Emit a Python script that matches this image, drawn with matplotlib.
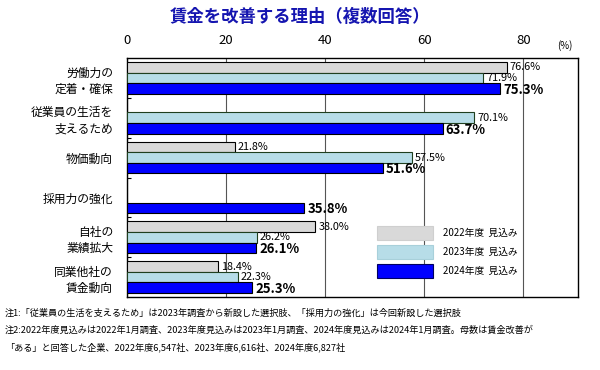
import numpy as np
import matplotlib
matplotlib.use("Agg")
import matplotlib.pyplot as plt
from matplotlib.patches import Patch

plt.rcParams['font.family'] = ['Noto Sans CJK JP', 'DejaVu Sans']

# categories and survey values (%), nan where the option did not exist
categories = ["労働力の\n定着・確保", "従業員の生活を\n支えるため", "物価動向",
              "採用力の強化", "自社の\n業績拡大", "同業他社の\n賃金動向"]
v2022 = [76.6, np.nan, 21.8, np.nan, 38.0, 18.4]
v2023 = [71.9, 70.1, 57.5, np.nan, 26.2, 22.3]
v2024 = [75.3, 63.7, 51.6, 35.8, 26.1, 25.3]
series_labels = ["2022年度  見込み", "2023年度  見込み", "2024年度  見込み"]
x_ticks = [0, 20, 40, 60, 80]

notes = [
    "注1:「従業員の生活を支えるため」は2023年調査から新設した選択肢、「採用力の強化」は今回新設した選択肢",
    "注2:2022年度見込みは2022年1月調査、2023年度見込みは2023年1月調査、2024年度見込みは2024年1月調査。母数は賃金改善が",
    "「ある」と回答した企業、2022年度6,547社、2023年度6,616社、2024年度6,827社",
]

fig = plt.figure(figsize=(6, 3.7), dpi=100)
ax = fig.add_axes([127 / 600, 1 - 297 / 370, 451 / 600, 239 / 370])

y = np.arange(len(categories))
h = 0.265
styles = [
    (v2022, -h, "#d9d9d9", "black"),
    (v2023, 0, "#b7dde8", "#1f3f1f"),
    (v2024, h, "#0000ff", "black"),
]
for i, (vals, off, fc, ec) in enumerate(styles):
    vals = np.array(vals, dtype=float)
    ax.barh(y + off, vals, height=h, color=fc, edgecolor=ec, linewidth=0.8, zorder=3)
    for yy, v in zip(y + off, vals):
        if np.isnan(v):
            continue
        if i == 2:
            ax.text(v + 0.6, yy + 0.03, f"{v:.1f}%", va="center", ha="left",
                    fontsize=9.5, fontweight="bold", zorder=4)
        else:
            ax.text(v + 0.6, yy, f"{v:.1f}%", va="center", ha="left",
                    fontsize=7.8, zorder=4)

ax.set_xlim(0, 91)
ax.set_ylim(len(categories) - 0.5, -0.5)
ax.xaxis.tick_top()
ax.set_xticks(x_ticks)
ax.set_xticklabels([str(t) for t in x_ticks], fontsize=9.5)
ax.tick_params(axis="x", length=0, pad=8)
ax.grid(axis="x", color="#555555", linewidth=0.8, zorder=0)

# small ticks at group boundaries, labels at group centres
ax.set_yticks(y)
ax.set_yticklabels(categories, fontsize=8.5, linespacing=1.3)
ax.tick_params(axis="y", length=0, pad=10)
ax.set_yticks(np.arange(len(categories) - 1) + 0.5, minor=True)
ax.tick_params(axis="y", which="minor", direction="in", length=3, width=0.8)
for s in ax.spines.values():
    s.set_linewidth(1.0)
    s.set_color("black")

fig.text(565 / 600, 1 - 46 / 370, "(%)", fontsize=7, ha="center", va="center")

fig.text(0.5, 1 - 17 / 370, "賃金を改善する理由（複数回答）", fontsize=12.5,
         fontweight="bold", color="#1515b0", ha="center", va="center")

leg_handles = [
    Patch(facecolor="#d9d9d9", edgecolor="#cfcfcf", linewidth=0.8),
    Patch(facecolor="#b7dde8", edgecolor="#a8d0da", linewidth=0.8),
    Patch(facecolor="#0000ff", edgecolor="#000060", linewidth=0.8),
]
leg = fig.legend(handles=leg_handles, labels=series_labels, loc="upper left",
                 bbox_to_anchor=(370 / 600, 1 - 219 / 370), frameon=False,
                 fontsize=7, handlelength=5.8, handleheight=1.8, labelspacing=0.55,
                 handletextpad=1.0, borderpad=0.2)

for k, line in enumerate(notes):
    fig.text(5 / 600, 1 - (313 + 17 * k) / 370, line, fontsize=6.6,
             ha="left", va="center")

fig.savefig("out.png", dpi=100)
